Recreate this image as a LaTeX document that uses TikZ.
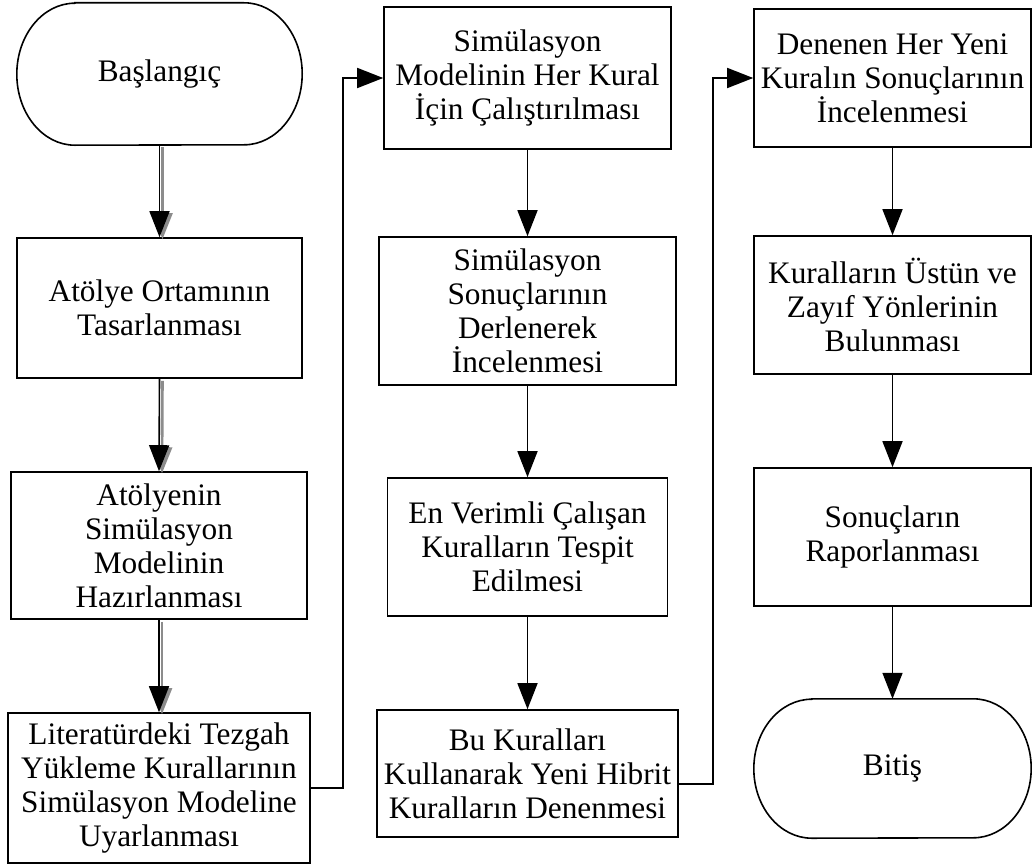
\documentclass[tikz,border=0pt]{standalone}
\usepackage{fontspec}
\setmainfont{Liberation Serif}
\usetikzlibrary{arrows.meta,calc}
\begin{document}
\begin{tikzpicture}[x=1pt,y=1pt,
  box/.style={draw, line width=1.6pt, rectangle, inner sep=0pt, align=center,
    font=\fontsize{31.3}{34}\selectfont},
  term/.style={rectangle, inner sep=0pt, align=center,
    font=\fontsize{31.3}{34}\selectfont},
  arr/.style={line width=1.6pt, -{Triangle[length=26pt,width=20pt]}},
  shadowarr/.style={line width=2.6pt, draw=black!45, -{Triangle[length=26pt,width=20pt]},
    transform canvas={xshift=3pt,yshift=-2pt}},
  outline/.style={line width=1.6pt}
]
\useasboundingbox (0,-867) rectangle (1032,0);
% column 1
\node[term, minimum width=285, minimum height=142] (start) at (159.5,-74) {Başlangıç};
\draw[outline] ([xshift=58]start.north west) -- ([xshift=-58]start.north east)
  arc[start angle=90,end angle=-90,x radius=58,y radius=71]
  -- ([xshift=58]start.south west)
  arc[start angle=270,end angle=90,x radius=58,y radius=71] -- cycle;
\node[box, minimum width=285, minimum height=140] (A) at (159.5,-308) {Atölye Ortamının\\Tasarlanması};
\node[box, minimum width=296, minimum height=147] (B) at (159,-545.5) {Atölyenin\\Simülasyon\\Modelinin\\Hazırlanması};
\node[box, minimum width=302, minimum height=150] (C) at (159,-788) {Literatürdeki Tezgah\\Yükleme Kurallarının\\Simülasyon Modeline\\Uyarlanması};
% column 2
\node[box, minimum width=287, minimum height=142] (D) at (527.5,-78) {Simülasyon\\Modelinin Her Kural\\İçin Çalıştırılması};
\node[box, minimum width=297, minimum height=148] (E) at (527.5,-311) {Simülasyon\\Sonuçlarının\\Derlenerek\\İncelenmesi};
\node[box, minimum width=280, minimum height=138] (F) at (527.5,-547) {En Verimli Çalışan\\Kuralların Tespit\\Edilmesi};
\node[box, minimum width=301, minimum height=127] (G) at (527.5,-773.5) {Bu Kuralları\\Kullanarak Yeni Hibrit\\Kuralların Denenmesi};
% column 3
\node[box, minimum width=277, minimum height=138] (H) at (892.5,-78) {Denenen Her Yeni\\Kuralın Sonuçlarının\\İncelenmesi};
\node[box, minimum width=277, minimum height=138] (I) at (892.5,-305) {Kuralların Üstün ve\\Zayıf Yönlerinin\\Bulunması};
\node[box, minimum width=277, minimum height=138] (J) at (892.5,-537) {Sonuçların\\Raporlanması};
\node[term, minimum width=277, minimum height=139] (end) at (892.5,-768.5) {Bitiş};
\draw[outline] ([xshift=58]end.north west) -- ([xshift=-58]end.north east)
  arc[start angle=90,end angle=-90,x radius=58,y radius=69.5]
  -- ([xshift=58]end.south west)
  arc[start angle=270,end angle=90,x radius=58,y radius=69.5] -- cycle;
% column 1 arrows with shadow
\draw[shadowarr] (start.south) -- (A.north);
\draw[arr] (start.south) -- (A.north);
\draw[shadowarr] (A.south) -- (B.north);
\draw[arr] (A.south) -- (B.north);
\draw[shadowarr] (B.south) -- (C.north);
\draw[arr] (B.south) -- (C.north);
% column 2 arrows
\draw[arr] (D.south) -- (E.north);
\draw[arr] (E.south) -- (F.north);
\draw[arr] (F.south) -- (G.north);
% column 3 arrows
\draw[arr] (H.south) -- (I.north);
\draw[arr] (I.south) -- (J.north);
\draw[arr] (J.south) -- (end.north);
% cross-column connectors
\coordinate (j1) at (343,-78);
\draw[arr] (C.east) -| (j1) -- (D.west);
\coordinate (j2) at (713,-78);
\draw[arr] ([yshift=-10.5]G.east) -| (j2) -- (H.west);
\end{tikzpicture}
\end{document}
